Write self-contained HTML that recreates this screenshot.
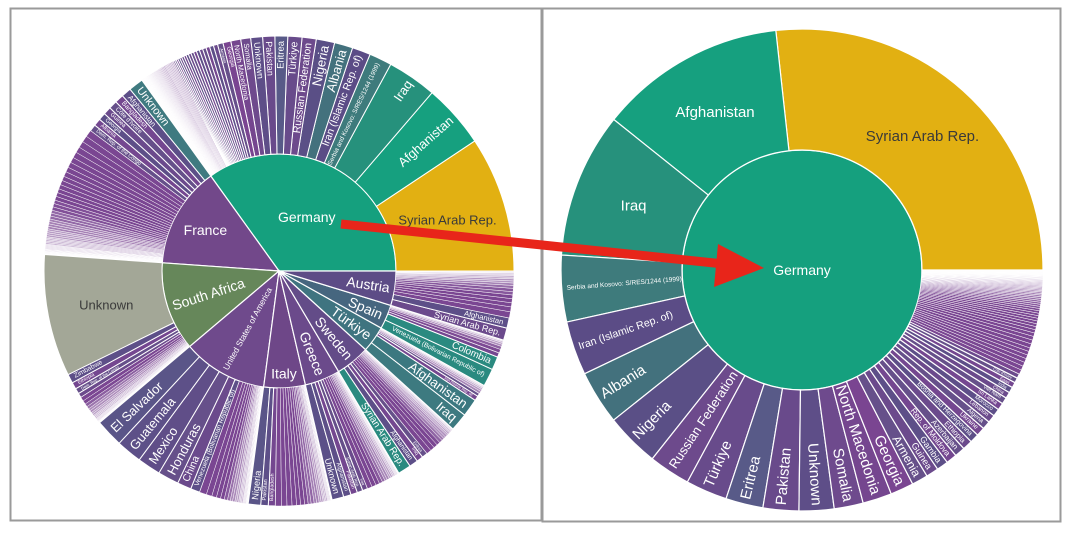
<!DOCTYPE html>
<html><head><meta charset="utf-8">
<style>
html,body{margin:0;padding:0;background:#fff;}
svg{display:block;font-family:"Liberation Sans Narrow","Liberation Sans",sans-serif;}
</style></head>
<body>
<svg id="chart" width="1076" height="534" viewBox="0 0 1076 534">
  <rect x="10.5" y="8.5" width="531" height="512" fill="#fff" stroke="#9a9a9a" stroke-width="2"/>
  <rect x="542.5" y="8.5" width="518" height="513" fill="#fff" stroke="#9a9a9a" stroke-width="2"/>
  <g id="left"></g>
  <g id="right"></g>
  <g>
    <line x1="341" y1="224" x2="724" y2="264" stroke="#e8251a" stroke-width="9"/>
    <polygon points="764,268 718,244 714,287" fill="#e8251a"/>
  </g>
</svg>
<script>
// ---------- DATA ----------
const germanyNames = ["Syrian Arab Rep.","Afghanistan","Iraq","Serbia and Kosovo: S/RES/1244 (1999)","Iran (Islamic Rep. of)","Albania","Nigeria","Russian Federation","Türkiye","Eritrea","Pakistan","Unknown","Somalia","North Macedonia","Georgia","Armenia","Guinea","Gambia","Rep. of Moldova","Azerbaijan","Ethiopia","Bosnia and Herzegovina","Ukraine","Algeria","Lebanon","Morocco","Sri Lanka","Viet Nam","China","India","Egypt","Côte d'Ivoire","Cameroon"];
const germanyValues = [96,45,35,16,13,13,13,10,10,9,8.6,8.4,7,7,5.6,3.9,3,2.8,2.6,2.5,2.4,2.2,2.1,2.0,1.9,1.8,1.7,1.6,1.5,1.4,1.3,1.2,1.1];
const germanyTail = [1.05,1.0,0.98,0.95,0.92,0.9,0.88,1.0,0.95,0.9,0.85,0.8,0.75,0.7,0.68,0.65,0.62,0.6,0.58,0.55,0.52,0.5,0.48,0.46,0.44,0.42,0.4,0.38,0.36,0.34,0.32,0.3,0.3,0.28,0.26,0.25,0.24,0.22,0.2,0.2,0.18,0.17,0.16,0.15,0.14,0.13,0.12,0.11,0.1,0.1,0.09,0.08,0.08,0.07,0.07,0.06,0.06,0.05,0.05,0.05,0.04,0.04,0.04,0.03,0.03,0.03,0.03,0.02,0.02,0.02];

const parentNames = ["Germany","France","South Africa","United States of America","Italy","Greece","Sweden","Türkiye","Spain","Austria"];
const parentValues = [125,50,44,42,20.5,17.5,17,13,12,17];

const franceNames = ["Unknown","Afghanistan","Bangladesh","Côte d'Ivoire","Guinea","Georgia","Albania","Dem. Rep. of the Congo"];
const franceValues = [3,2,1.8,1.7,1.6,1.5,1.5,1.4,1.4,1.3,1.3,1.2,1.2,1.1,1.1,1.0,1.0,0.9,0.9,0.9,0.8,0.8,0.8,0.7,0.7,0.7,0.6,0.6,0.6,0.5,0.5,0.5,0.5,0.4,0.4,0.4,0.4,0.3,0.3,0.3,0.3,0.3,0.2,0.2,0.2,0.2,0.2,0.15,0.15,0.15,0.1,0.1,0.1,0.1,0.1,0.05,0.05,0.05];
const southAfricaNames = ["Unknown","Zimbabwe","Ethiopia","Dem. Rep. of the Congo","Somalia"];
const southAfricaValues = [27,2,1.5,1.2,1.0,0.9,0.8,0.7,0.6,0.5,0.5,0.4,0.4,0.3,0.3,0.3,0.2,0.2,0.2,0.15,0.1,0.1,0.1,0.05,0.05];
const usaNames = ["El Salvador","Guatemala","Mexico","Honduras","China","Venezuela (Bolivarian Republic of)"];
const usaValues = [6,5.5,5,4.5,3,2,1.5,1.2,1.0,0.9,0.8,0.7,0.6,0.5,0.5,0.4,0.4,0.3,0.3,0.3,0.2,0.2,0.2,0.15,0.1,0.1,0.1,0.05,0.05];
const italyNames = ["Nigeria","Pakistan","Bangladesh"];
const italyValues = [2.5,1.5,1.4,1.2,1.1,1.0,0.9,0.8,0.8,0.7,0.6,0.6,0.5,0.5,0.4,0.4,0.3,0.3,0.3,0.2,0.2,0.2,0.1,0.1,0.1];
const greeceNames = ["Unknown","Afghanistan","Pakistan","Syrian Arab Rep.","Iraq"];
const greeceValues = [2.5,1.6,1.4,1.2,1.1,1,0.9,0.8,0.7,0.6,0.5,0.5,0.4,0.4,0.3,0.3,0.2,0.2,0.2,0.1,0.1,0.1];
const swedenNames = ["Syrian Arab Rep.","Afghanistan","Iraq","Eritrea"];
const swedenValues = [3,2,1.5,1.3,1.1,1.0,0.9,0.8,0.7,0.6,0.5,0.5,0.4,0.4,0.3,0.3,0.2,0.2,0.1,0.1];
const turkiyeNames = ["Iraq","Afghanistan","Iran (Islamic Rep. of)","Syrian Arab Rep."];
const turkiyeValues = [4.5,4.5,1.2,0.8,0.6,0.5,0.4,0.3,0.2,0.2,0.1];
const spainNames = ["Venezuela (Bolivarian Republic of)","Colombia","Honduras"];
const spainValues = [4,3,1,0.8,0.7,0.5,0.4,0.3,0.2,0.1];
const austriaNames = ["Syrian Arab Rep.","Afghanistan"];
const austriaValues = [3,2.5,1.5,1.2,1.0,1,0.9,0.8,0.8,0.7,0.6,0.5,0.5,0.4,0.4,0.3,0.3,0.2,0.2,0.1];

// ---------- STYLE ----------
const parentColors = {"Germany":"#15a07e","France":"#72488a","South Africa":"#66875a","United States of America":"#6f4a8c","Italy":"#6e4788","Greece":"#6b4a8b","Sweden":"#634c88","Türkiye":"#3f7480","Spain":"#46667f","Austria":"#5d4c86"};
const germanyColors = {"Syrian Arab Rep.":"#e2b012","Afghanistan":"#16a07f","Iraq":"#26917c","Serbia and Kosovo: S/RES/1244 (1999)":"#3e7b7c","Iran (Islamic Rep. of)":"#5b4c86","Albania":"#43717d","Nigeria":"#5a4f86","Russian Federation":"#6d4a8c","Türkiye":"#684b8b","Eritrea":"#585a88","Pakistan":"#694a8b","Unknown":"#5e4e88","Somalia":"#6e4a8d","North Macedonia":"#75468f","Georgia":"#7a4591"};
const otherColors = {"France|Unknown":"#3f7a80","South Africa|Unknown":"#a3a797","Türkiye|Iraq":"#3d7a80","Türkiye|Afghanistan":"#3b7880","Spain|Venezuela (Bolivarian Republic of)":"#2a8a80","Spain|Colombia":"#2a8a80","Sweden|Syrian Arab Rep.":"#2a8a80","United States of America|El Salvador":"#5a5588","United States of America|Guatemala":"#5d5088","United States of America|Mexico":"#604e88","Italy|Nigeria":"#5a5588","Greece|Unknown":"#5b5088"};
const palette = ["#6b4a8c","#5d4f88","#744790","#66508a"];

function childColor(parent, name, i) {
  if (parent === "Germany" && germanyColors[name]) return germanyColors[name];
  if (otherColors[parent + "|" + name]) return otherColors[parent + "|" + name];
  if (!name) return "#7a4692";
  return palette[i % palette.length];
}

const NS = "http://www.w3.org/2000/svg";
function P(cx, cy, r, a) { const t = a * Math.PI / 180; return [cx + r * Math.cos(t), cy - r * Math.sin(t)]; }
function arcD(cx, cy, r0, r1, a0, a1) {
  const large = (a1 - a0) > 180 ? 1 : 0;
  const p1 = P(cx, cy, r1, a0), p2 = P(cx, cy, r1, a1);
  if (r0 <= 0) {
    return `M${cx},${cy}L${p1[0]},${p1[1]}A${r1},${r1} 0 ${large} 0 ${p2[0]},${p2[1]}Z`;
  }
  const p3 = P(cx, cy, r0, a1), p4 = P(cx, cy, r0, a0);
  return `M${p1[0]},${p1[1]}A${r1},${r1} 0 ${large} 0 ${p2[0]},${p2[1]}L${p3[0]},${p3[1]}A${r0},${r0} 0 ${large} 1 ${p4[0]},${p4[1]}Z`;
}
function drawArc(g, cx, cy, r0, r1, a0, a1, fill, sw, nm, op) {
  const p = document.createElementNS(NS, "path");
  p.setAttribute("d", arcD(cx, cy, r0, r1, a0, a1));
  p.setAttribute("fill", fill);
  if (op !== undefined) p.setAttribute("fill-opacity", op);
  p.setAttribute("stroke", "#fff");
  p.setAttribute("stroke-width", sw);
  
  
  g.appendChild(p);
}
function tailOpacity(span) { return Math.max(0.12, Math.min(1, span / 0.9)).toFixed(2); }
function drawLabel(g, cx, cy, r0, r1, a0, a1, text, mode, maxF, color, rFactor) {
  if (!text) return;
  const mid = (a0 + a1) / 2;
  const t = document.createElementNS(NS, "text");
  t.textContent = text;
  t.setAttribute("fill", color);
  if (mode === "h") {
    const rr = r0 + (r1 - r0) * rFactor;
    const p = P(cx, cy, rr, mid);
    t.setAttribute("x", p[0]); t.setAttribute("y", p[1] + maxF * 0.35);
    t.setAttribute("text-anchor", "middle");
    t.setAttribute("font-size", maxF);
  } else {
    const rA = r1 - 5;
    const thick = r1 - Math.max(r0, 12) - 8;
    const arcW = (a1 - a0) * Math.PI / 180 * (rA - 15);
    let fs = Math.min(maxF, arcW * 0.8, thick / (0.48 * text.length));
    if (fs < 3.5) return;
    const p = P(cx, cy, rA, mid);
    const m = ((mid % 360) + 360) % 360;
    const leftHalf = m > 90 && m < 270;
    const rot = leftHalf ? -mid + 180 : -mid;
    t.setAttribute("x", p[0]); t.setAttribute("y", p[1]);
    t.setAttribute("text-anchor", leftHalf ? "start" : "end");
    t.setAttribute("dominant-baseline", "central");
    t.setAttribute("transform", `rotate(${rot} ${p[0]} ${p[1]})`);
    t.setAttribute("font-size", fs.toFixed(2));
  }
  
  
  g.appendChild(t);
}
function sum(a) { return a.reduce((s, v) => s + v, 0); }

// ---------- RIGHT CHART (Germany zoomed) ----------
(function () {
  const g = document.getElementById("right");
  const cx = 802, cy = 270, r0 = 120, r1 = 241;
  const c = document.createElementNS(NS, "circle");
  c.setAttribute("cx", cx); c.setAttribute("cy", cy); c.setAttribute("r", r0);
  c.setAttribute("fill", "#15a07e"); c.setAttribute("stroke", "#fff"); c.setAttribute("stroke-width", "1.5");
  
  
  g.appendChild(c);
  const vals = germanyValues.concat(germanyTail);
  const total = sum(vals);
  let a = 0;
  vals.forEach((v, i) => {
    const span = v / total * 360;
    const name = germanyNames[i] || "";
    const tail = i >= germanyNames.length;
    drawArc(g, cx, cy, r0, r1, a, a + span, childColor("Germany", name, i), tail ? 0.5 : 1.2, name ? 'arc-' + name.toLowerCase().replace(/[^a-z0-9]+/g, '-') : 'arc-other-origin', tail ? tailOpacity(span * 1.6) : undefined);
    a += span;
  });
  a = 0;
  vals.forEach((v, i) => {
    const span = v / total * 360;
    const name = germanyNames[i] || "";
    const col = name === "Syrian Arab Rep." ? "#3a3a3a" : "#fff";
    drawLabel(g, cx, cy, r0, r1, a, a + span, name, span > 30 ? "h" : "r", 15, col, 0.5);
    a += span;
  });
  const t = document.createElementNS(NS, "text");
  t.textContent = "Germany";
  t.setAttribute("x", cx); t.setAttribute("y", cy + 5);
  t.setAttribute("text-anchor", "middle"); t.setAttribute("fill", "#fff"); t.setAttribute("font-size", "14");
  
  
  g.appendChild(t);
})();

// ---------- LEFT CHART (overview) ----------
(function () {
  const g = document.getElementById("left");
  const cx = 279, cy = 271, r0 = 117, r1 = 235;
  const kids = {
    "Germany": [germanyNames, germanyValues.concat(germanyTail)],
    "France": [franceNames, franceValues],
    "South Africa": [southAfricaNames, southAfricaValues],
    "United States of America": [usaNames, usaValues],
    "Italy": [italyNames, italyValues],
    "Greece": [greeceNames, greeceValues],
    "Sweden": [swedenNames, swedenValues],
    "Türkiye": [turkiyeNames, turkiyeValues],
    "Spain": [spainNames, spainValues],
    "Austria": [austriaNames, austriaValues]
  };
  const horiz = {"Germany": 0.52, "France": 0.72, "Italy": 0.88};
  const total = 358;
  let a = 0;
  const labels = [];
  parentNames.forEach((pn, pi) => {
    const span = parentValues[pi] / total * 360;
    drawArc(g, cx, cy, 0, r0, a, a + span, parentColors[pn], 1.2, 'arc-' + pn.toLowerCase().replace(/[^a-z0-9]+/g, '-'));
    labels.push([0, r0, a, a + span, pn, horiz[pn] ? "h" : "r", 14, "#fff", horiz[pn] || 0.7]);
    const names = kids[pn][0], vals = kids[pn][1];
    const ct = sum(vals);
    let b = a;
    vals.forEach((v, i) => {
      const s = v / ct * span;
      const name = names[i] || "";
      drawArc(g, cx, cy, r0, r1, b, b + s, childColor(pn, name, i), name ? 1 : 0.45, name ? 'arc-' + pn.toLowerCase().replace(/[^a-z0-9]+/g, '-') + '-' + name.toLowerCase().replace(/[^a-z0-9]+/g, '-') : 'arc-other-origin', name ? undefined : tailOpacity(s));
      const col = (name === "Syrian Arab Rep." && pn === "Germany") || (name === "Unknown" && pn === "South Africa") ? "#3a3a3a" : "#fff";
      labels.push([r0, r1, b, b + s, name, s > 25 ? "h" : "r", 13, col, 0.5]);
      b += s;
    });
    a += span;
  });
  labels.forEach(l => drawLabel(g, cx, cy, l[0], l[1], l[2], l[3], l[4], l[5], l[6], l[7], l[8]));
})();
</script>
</body></html>
